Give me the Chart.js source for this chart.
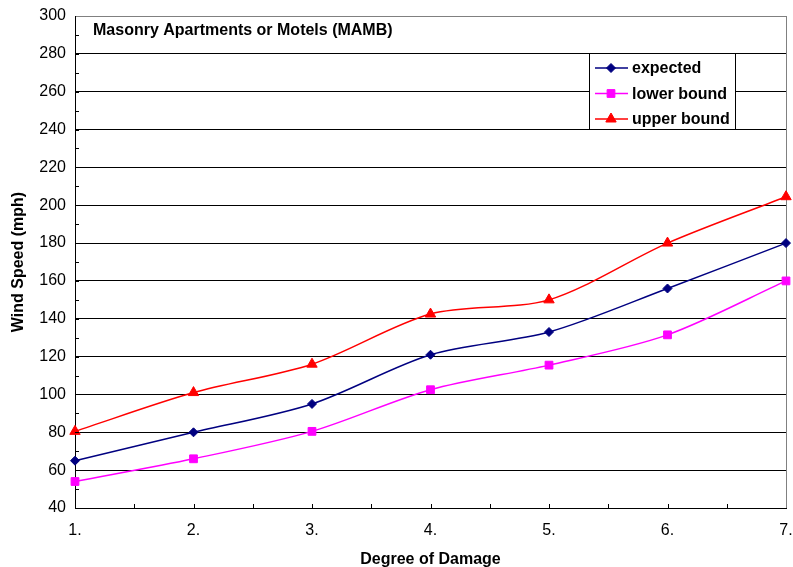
<!DOCTYPE html>
<html>
<head>
<meta charset="utf-8">
<script src="https://cdn.jsdelivr.net/npm/chart.js@4/dist/chart.umd.min.js"></script>
<style>
  html, body { margin: 0; padding: 0; background: #fff; }
  #wrap { width: 793px; height: 567px; }
</style>
</head>
<body>
<div id="wrap"><canvas id="damageChart" width="793" height="567"></canvas></div>
<script>
// Degree of damage (x) and wind speeds (mph)
const degrees = [1, 2, 3, 4, 5, 6, 7];
const expected = [65, 80, 95, 121, 133, 156, 180];
const lowerBound = [54, 66, 80.5, 102.5, 115.5, 131.5, 160];
const upperBound = [80.5, 101, 116, 142.5, 150, 180, 204.5];

const chartTitle = 'Masonry Apartments or Motels (MAMB)';
const FONT = '"Liberation Sans", Arial, sans-serif';

function toPoints(values) {
    return degrees.map((d, i) => ({ x: d, y: values[i] }));
}

const seriesInfo = [
    { label: 'expected', data: expected, color: '#000080', style: 'rectRot', radius: 4.5 },
    { label: 'lower bound', data: lowerBound, color: '#FF00FF', style: 'rect', radius: 5.5 },
    { label: 'upper bound', data: upperBound, color: '#FF0000', style: 'triangle', radius: 6 }
];

// Inside tick marks, plot title and boxed legend
const decorPlugin = {
    id: 'decor',
    afterDraw(chart) {
        const ctx = chart.ctx;
        const area = chart.chartArea;
        const xs = chart.scales.x;
        const ys = chart.scales.y;

        ctx.save();
        ctx.strokeStyle = '#000';
        ctx.lineWidth = 1;
        // y ticks every 10
        for (let v = 50; v < 300; v += 10) {
            const py = Math.round(ys.getPixelForValue(v)) + 0.5;
            ctx.beginPath();
            ctx.moveTo(area.left, py);
            ctx.lineTo(area.left + 4, py);
            ctx.stroke();
        }
        // x ticks every 0.5
        for (let v = 1.5; v < 7; v += 0.5) {
            const px = Math.round(xs.getPixelForValue(v)) + 0.5;
            ctx.beginPath();
            ctx.moveTo(px, area.bottom);
            ctx.lineTo(px, area.bottom - 4);
            ctx.stroke();
        }

        // title inside the plot
        ctx.fillStyle = '#000';
        ctx.font = 'bold 16px ' + FONT;
        ctx.textBaseline = 'middle';
        ctx.textAlign = 'left';
        ctx.fillText(chartTitle, 93, 31);

        // legend box
        const bx = 589.5, by = 53.5, bw = 146, bh = 76;
        ctx.fillStyle = '#fff';
        ctx.fillRect(bx, by, bw, bh);
        ctx.strokeStyle = '#000';
        ctx.strokeRect(bx, by, bw, bh);
        seriesInfo.forEach((s, i) => {
            const cy = 68 + i * 25.5;
            ctx.strokeStyle = s.color;
            ctx.lineWidth = 1.5;
            ctx.beginPath();
            ctx.moveTo(595, cy);
            ctx.lineTo(628, cy);
            ctx.stroke();
            ctx.fillStyle = s.color;
            ctx.strokeStyle = s.color;
            ctx.lineWidth = 1;
            Chart.helpers.drawPoint(ctx, {
                pointStyle: s.style,
                radius: s.radius,
                rotation: 0,
                borderWidth: 1
            }, 611, cy);
            ctx.fillStyle = '#000';
            ctx.font = 'bold 16px ' + FONT;
            ctx.textBaseline = 'middle';
            ctx.fillText(s.label, 632, cy + 1);
        });
        ctx.restore();
    }
};

const ctx = document.getElementById('damageChart').getContext('2d');
new Chart(ctx, {
    type: 'line',
    data: {
        datasets: seriesInfo.map(s => ({
            label: s.label,
            data: toPoints(s.data),
            borderColor: s.color,
            backgroundColor: s.color,
            borderWidth: 1.5,
            pointStyle: s.style,
            pointRadius: s.radius,
            pointBorderWidth: 1,
            pointBackgroundColor: s.color,
            pointBorderColor: s.color,
            tension: 0.3,
            fill: false,
            clip: false
        }))
    },
    options: {
        responsive: false,
        animation: false,
        layout: { padding: { top: 16, right: 5, left: 0, bottom: 0 } },
        plugins: {
            legend: { display: false },
            tooltip: { enabled: false }
        },
        scales: {
            x: {
                type: 'linear',
                min: 1,
                max: 7,
                border: { display: true, color: '#000', width: 1 },
                grid: {
                    drawTicks: false,
                    color: c => (c.tick && c.tick.value === 7) ? '#808080' : 'transparent'
                },
                ticks: {
                    stepSize: 1,
                    padding: 13,
                    color: '#000',
                    maxRotation: 0,
                    font: { family: FONT, size: 16 },
                    callback: v => v + '.'
                },
                title: {
                    display: true,
                    text: 'Degree of Damage',
                    color: '#000',
                    font: { family: FONT, size: 16, weight: 'bold' },
                    padding: { top: 0, bottom: -2 }
                },
                afterFit: scale => {
                    scale.height = 59;
                    scale.paddingLeft = 0;
                    scale.paddingRight = 0;
                }
            },
            y: {
                min: 40,
                max: 300,
                border: { display: true, color: '#000', width: 1 },
                grid: {
                    drawTicks: false,
                    color: c => (c.tick && c.tick.value === 300) ? '#808080' : '#000'
                },
                ticks: {
                    stepSize: 20,
                    padding: 9,
                    color: '#000',
                    font: { family: FONT, size: 16 }
                },
                title: {
                    display: true,
                    text: 'Wind Speed (mph)',
                    color: '#000',
                    font: { family: FONT, size: 16, weight: 'bold' },
                    padding: { top: 9, bottom: 0 }
                },
                afterFit: scale => {
                    scale.width = 75;
                    scale.paddingTop = 0;
                    scale.paddingBottom = 0;
                }
            }
        }
    },
    plugins: [decorPlugin]
});
</script>
</body>
</html>
